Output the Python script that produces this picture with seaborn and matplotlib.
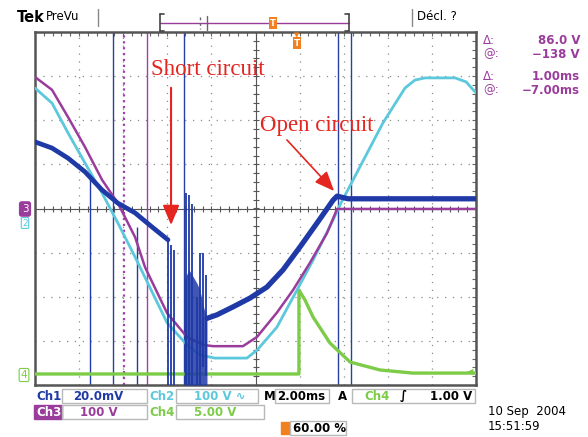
import numpy as np
import pandas as pd
import matplotlib
matplotlib.use("Agg")
import matplotlib.pyplot as plt
from matplotlib.ticker import MultipleLocator
from matplotlib.patches import Rectangle
import seaborn as sns

# ---------------- data (time in ms, amplitude in divisions) ----------------
ch2_t = [0, 0.77, 1.50, 2.27, 3.04, 3.76, 4.54, 5.99, 6.89, 7.48, 8.16, 9.61, 10.07, 10.97, 11.88, 12.61, 13.52, 13.83, 15.78, 16.78, 17.23, 17.69, 19.05, 19.55, 20.0]
ch2_v = [2.73, 2.39, 1.71, 1.03, 0.35, -0.33, -1.10, -2.59, -3.09, -3.32, -3.39, -3.39, -3.21, -2.69, -1.85, -1.17, -0.26, 0.08, 1.94, 2.73, 2.91, 2.96, 2.96, 2.87, 2.62]

ch3_t = [0, 0.77, 1.50, 2.27, 3.04, 3.76, 4.54, 4.99, 5.99, 6.89, 7.62, 8.07, 9.43, 10.07, 10.97, 11.70, 12.47, 13.24, 13.70, 20.0]
ch3_v = [2.98, 2.69, 2.07, 1.39, 0.65, 0.12, -0.65, -1.33, -2.37, -2.91, -3.09, -3.12, -3.12, -2.91, -2.36, -1.85, -1.23, -0.56, -0.01, -0.01]

ch1a_t = [0, 0.77, 1.50, 2.27, 3.04, 3.76, 4.54, 5.31, 6.03]
ch1a_v = [1.51, 1.37, 1.14, 0.83, 0.42, 0.12, -0.10, -0.42, -0.71]
ch1b_t = [7.80, 8.25, 8.98, 9.75, 10.52, 11.25, 12.02, 12.79, 13.52, 13.70, 14.2, 20.0]
ch1b_v = [-2.49, -2.41, -2.23, -2.03, -1.78, -1.39, -0.87, -0.33, 0.19, 0.28, 0.22, 0.22]

ch4_t = [0, 11.97, 11.97, 12.24, 12.61, 13.38, 14.29, 15.65, 17.14, 20.0]
ch4_v = [-3.75, -3.75, -1.85, -2.07, -2.46, -3.05, -3.48, -3.66, -3.73, -3.73]

# short-circuit burst on Ch1
burst_t = [6.03, 6.17, 6.30, 6.85, 6.98, 7.12, 7.35, 7.48, 7.62, 7.76]
burst_top = [-0.71, -0.83, -0.94, 0.35, 0.30, 0.10, -2.0, -1.0, -1.0, -1.5]
burst_bot = [-4, -4, -4, -4, -4, -4, -4, -4, -3.6, -3.8]
blob_t = [6.76, 6.98, 7.12, 7.35, 7.48, 7.62, 7.80]
blob_top = [-1.62, -1.39, -1.50, -1.70, -1.85, -2.20, -2.49]

# isolated glitches on Ch1
glitch_t = [2.49, 4.63]
glitch_top = [0.71, -0.42]

# cursors
cursor_t = [3.54, 4.04, 5.08, 6.76, 13.74, 14.33]
cursor_c = ["#2a3fa0", "#a040b0", "#a040b0", "#2a3fa0", "#2a3fa0", "#2a3fa0"]
cursor_ls = ["-", ":", "-", "-", "-", "-"]

BLUE = "#1f3aa6"
CYAN = "#5cc8dc"
PURPLE = "#9a3c9c"
GREEN = "#7ccc48"
RED = "#e52520"
ORANGE = "#f08020"

sns.set_style("white")
W, H = 588, 437
fig = plt.figure(figsize=(W / 100, H / 100), dpi=100)
L, R, T, B = 35, 476, 32, 385
ax = fig.add_axes([L / W, 1 - B / H, (R - L) / W, (B - T) / H])
ax.set_xlim(0, 20)
ax.set_ylim(-4, 4)

# graticule
ax.set_xticks(np.arange(0, 21, 2))
ax.set_yticks(np.arange(-4, 5, 1))
ax.xaxis.set_minor_locator(MultipleLocator(0.4))
ax.yaxis.set_minor_locator(MultipleLocator(0.2))
ax.grid(which="major", color="#8a8a8a", linestyle=(0, (1, 5.3)), lw=0.9)
ax.tick_params(which="both", direction="in", top=True, right=True, labelbottom=False,
               labelleft=False, color="#666666", length=3, width=0.8)
for s in ax.spines.values():
    s.set_color("#555555")
    s.set_linewidth(1.8)
ax.axhline(0, color="#555555", lw=0.8, zorder=1)
ax.axvline(10, color="#555555", lw=0.8, zorder=1)
mx = np.arange(0, 20.01, 0.4)
my = np.arange(-4, 4.01, 0.2)
ax.plot(mx, np.zeros_like(mx), ls="none", marker="|", ms=5, mew=0.8, color="#555555", zorder=1)
ax.plot(np.full_like(my, 10), my, ls="none", marker="_", ms=5, mew=0.8, color="#555555", zorder=1)

# cursors
for t, c, ls in zip(cursor_t, cursor_c, cursor_ls):
    ax.axvline(t, color=c, ls=ls, lw=1.0 if ls == "-" else 1.6, zorder=2)
ax.vlines(glitch_t, glitch_top, -4, color=BLUE, lw=1.0, zorder=2)

# traces
df4 = pd.DataFrame({"t": ch4_t, "v": ch4_v})
sns.lineplot(data=df4, x="t", y="v", sort=False, estimator=None, color=GREEN, lw=2.4, ax=ax, zorder=3)
df2 = pd.DataFrame({"t": ch2_t, "v": ch2_v})
sns.lineplot(data=df2, x="t", y="v", sort=False, estimator=None, color=CYAN, lw=2.0, ax=ax, zorder=4)
df3 = pd.DataFrame({"t": ch3_t, "v": ch3_v})
sns.lineplot(data=df3, x="t", y="v", sort=False, estimator=None, color=PURPLE, lw=1.8, ax=ax, zorder=5)
df1a = pd.DataFrame({"t": ch1a_t, "v": ch1a_v})
sns.lineplot(data=df1a, x="t", y="v", sort=False, estimator=None, color=BLUE, lw=3.4, ax=ax, zorder=6)
df1b = pd.DataFrame({"t": ch1b_t, "v": ch1b_v})
sns.lineplot(data=df1b, x="t", y="v", sort=False, estimator=None, color=BLUE, lw=3.8, ax=ax, zorder=6)
ax.vlines(burst_t, burst_bot, burst_top, color=BLUE, lw=1.3, zorder=6)
ax.fill_between(blob_t, -4, blob_top, color=BLUE, alpha=0.85, lw=0, zorder=6)
ax.set_xlabel("")
ax.set_ylabel("")

# annotations
ax.annotate("Short circuit", xy=(6.17, -0.44), xytext=(7.85, 3.14), ha="center", va="center",
            color=RED, fontsize=16.5, family="Liberation Serif", zorder=8)
ax.annotate("", xy=(6.17, -0.44), xytext=(6.17, 2.8),
            arrowprops=dict(arrowstyle="-|>,head_length=1.2,head_width=0.5", color=RED, lw=1.5), zorder=8)
ax.annotate("Open circuit", xy=(13.65, 0.35), xytext=(12.79, 1.89), ha="center", va="center",
            color=RED, fontsize=16.5, family="Liberation Serif", zorder=8)
ax.annotate("", xy=(13.65, 0.35), xytext=(11.34, 1.60),
            arrowprops=dict(arrowstyle="-|>,head_length=1.2,head_width=0.5", color=RED, lw=1.2), zorder=8)


# ---------------- screen furniture (pixel placement) ----------------
def P(x, y):
    return x / W, 1 - y / H


def txt(x, y, s, **kw):
    kw.setdefault("va", "center")
    kw.setdefault("fontsize", 8.5)
    kw.setdefault("fontweight", "bold")
    fig.text(*P(x, y), s, **kw)


def box(x0, y0, x1, y1, ec="#b8b8b8", fc="none", lw=1.0):
    fig.add_artist(Rectangle(P(x0, y1), (x1 - x0) / W, (y1 - y0) / H, transform=fig.transFigure,
                             ec=ec, fc=fc, lw=lw))


def hline(x0, x1, y, **kw):
    fig.add_artist(plt.Line2D([x0 / W, x1 / W], [1 - y / H, 1 - y / H], transform=fig.transFigure, **kw))


def vline(x, y0, y1, **kw):
    fig.add_artist(plt.Line2D([x / W, x / W], [1 - y0 / H, 1 - y1 / H], transform=fig.transFigure, **kw))


txt(17, 17, "Tek", fontsize=10.5, color="black")
txt(46, 17, "PreVu", fontsize=8.5, fontweight="normal", color="black")
vline(98, 9, 26, color="#888888", lw=1)
vline(412, 9, 26, color="#888888", lw=1)
txt(417, 17, "Décl. ?", fontsize=8.5, fontweight="normal", color="black")
hline(160, 349, 23, color=PURPLE, lw=1)
vline(160, 14, 31, color="#444444", lw=1.2)
vline(349, 14, 31, color="#444444", lw=1.2)
hline(160, 164, 14, color="#444444", lw=1.2)
hline(160, 164, 31, color="#444444", lw=1.2)
hline(345, 349, 14, color="#444444", lw=1.2)
hline(345, 349, 31, color="#444444", lw=1.2)
vline(200, 17, 29, color="#666666", lw=1, ls=(0, (2, 2)))
vline(207, 16, 30, color="#666666", lw=1)
txt(273, 23, "T", fontsize=6, color="white", ha="center",
    bbox=dict(boxstyle="square,pad=0.15", fc=ORANGE, ec="none"))
txt(297, 43, "T", fontsize=6.5, color="white", ha="center",
    bbox=dict(boxstyle="square,pad=0.15", fc=ORANGE, ec="none"))
txt(297, 35, "▼", fontsize=5, color=ORANGE, ha="center", fontweight="normal")

# channel markers
txt(25, 209, "3", fontsize=7.5, color="white", ha="center", fontweight="normal",
    bbox=dict(boxstyle="round,pad=0.2", fc=PURPLE, ec=PURPLE))
txt(25, 223, "2", fontsize=6.5, color=CYAN, ha="center", fontweight="normal",
    bbox=dict(boxstyle="round,pad=0.1", fc="white", ec=CYAN, lw=0.8))
txt(24, 375, "4", fontsize=7.5, color=GREEN, ha="center", fontweight="normal",
    bbox=dict(boxstyle="round,pad=0.15", fc="white", ec=GREEN, lw=0.8))
txt(470, 372, "◀", fontsize=6, color=GREEN, ha="center", fontweight="normal")

# cursor readouts
for y, a, b in [(40, "Δ:", "86.0 V"), (54, "@:", "−138 V"), (77, "Δ:", "1.00ms"), (90, "@:", "−7.00ms")]:
    txt(483, y, a, color=PURPLE, fontsize=8.5, fontweight="normal")
    txt(580, y, b, color=PURPLE, ha="right")

# bottom status
txt(36, 396, "Ch1", color=BLUE)
box(62, 389, 147, 403)
txt(73, 396, "20.0mV", color=BLUE)
txt(149, 396, "Ch2", color=CYAN)
box(176, 389, 258, 403)
txt(194, 396, "100 V ∿", color=CYAN)
txt(264, 396, "M", color="black")
box(275, 389, 329, 403)
txt(277, 396, "2.00ms", color="black")
txt(338, 396, "A", color="black")
box(352, 389, 475, 403)
txt(364, 396, "Ch4", color=GREEN)
txt(400, 396, "∫", color="black")
txt(472, 396, "1.00 V", color="black", ha="right")

box(34, 405, 62, 419, ec=PURPLE, fc=PURPLE)
txt(36, 412, "Ch3", color="white")
box(62, 405, 147, 419)
txt(80, 412, "100 V", color=PURPLE)
txt(149, 412, "Ch4", color=GREEN)
box(176, 405, 264, 419)
txt(194, 412, "5.00 V", color=GREEN)

box(281, 422, 289, 434, ec=ORANGE, fc=ORANGE)
box(290, 421, 346, 435)
txt(293, 428, "60.00 %", color="black")

txt(488, 411, "10 Sep  2004", color="black", fontweight="normal", fontsize=8.5)
txt(488, 427, "15:51:59", color="black", fontweight="normal", fontsize=8.5)

fig.savefig("out.png", dpi=100)
